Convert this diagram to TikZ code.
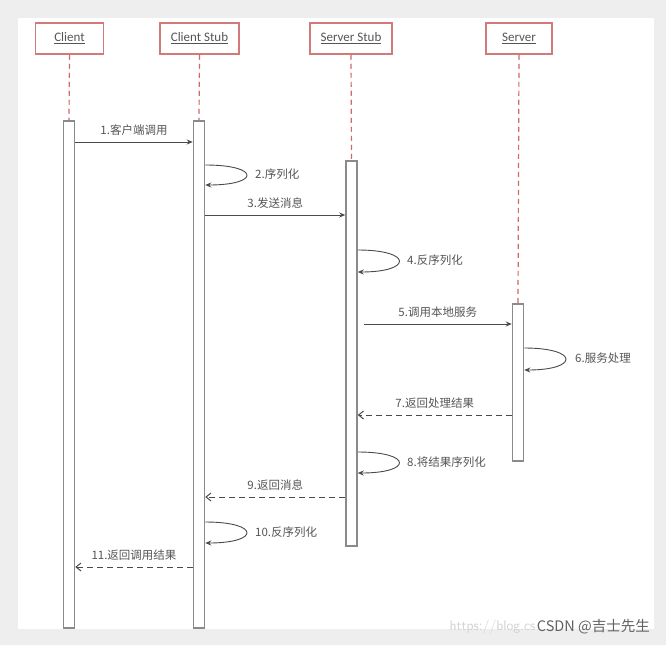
\documentclass[tikz,border=0pt]{standalone}
\usepackage{fontspec}
\setmainfont{Carlito}
\newfontfamily\cjk{Noto Sans CJK SC}
\usetikzlibrary{arrows.meta}
\definecolor{bgGrey}{HTML}{EEEEEE}
\definecolor{boxRed}{HTML}{D27A7A}
\definecolor{lifeRed}{HTML}{D06868}
\definecolor{barGrey}{HTML}{8A8A8A}
\definecolor{msgGrey}{HTML}{4A4A4A}
\definecolor{txtGrey}{HTML}{555555}
\begin{document}
\begin{tikzpicture}[x=1pt,y=-1pt,
  head/.style={draw=boxRed, line width=1.5pt, fill=white, minimum width=#1, minimum height=31pt, inner sep=0pt, font=\fontsize{13}{15}\selectfont, text=txtGrey},
  bar/.style={draw=barGrey, line width=1.5pt, fill=white, minimum width=11pt, minimum height=#1, inner sep=0pt},
  life/.style={draw=lifeRed, line width=1.2pt, dash pattern=on 5pt off 4pt},
  msg/.style={draw=msgGrey, line width=0.9pt, -{Stealth[length=6pt,width=5pt]}},
  ret/.style={draw=msgGrey, line width=1pt, dash pattern=on 6pt off 4pt, -{Straight Barb[length=5pt,width=8pt]}},
  lbl/.style={font=\cjk\fontsize{11.5}{13}\selectfont, text=txtGrey, inner sep=1pt},
]
\useasboundingbox (0,0) rectangle (666,645);
\fill[bgGrey] (0,0) rectangle (666,645);
\fill[white] (18,18) rectangle (654,629);

% headers
\node[head=68pt] (h1) at (69.5,38.5) {\underline{Client}};
\node[head=79pt] (h2) at (199.5,38.5) {\underline{Client Stub}};
\node[head=82pt] (h3) at (351,38.5) {\underline{Server Stub}};
\node[head=66pt] (h4) at (519,38.5) {\underline{Server}};

% activation bars
\node[bar=507pt, anchor=north] (b1) at (69,120) {};
\node[bar=507pt, anchor=north] (b2) at (199,120) {};
\node[bar=385pt, anchor=north] (b3) at (351.5,160) {};
\node[bar=157pt, anchor=north] (b4) at (518,303) {};

% lifelines
\draw[life] (h1.south) -- (b1.north);
\draw[life] (h2.south) -- (b2.north);
\draw[life] (h3.south) -- (b3.north);
\draw[life] (h4.south) -- (b4.north);

% message rows
\coordinate (y1) at (0,142);
\coordinate (y2a) at (0,165); \coordinate (y2b) at (0,185);
\coordinate (y3) at (0,215);
\coordinate (y4a) at (0,250); \coordinate (y4b) at (0,272);
\coordinate (y5) at (0,324);
\coordinate (y6a) at (0,348); \coordinate (y6b) at (0,370);
\coordinate (y7) at (0,415);
\coordinate (y8a) at (0,452); \coordinate (y8b) at (0,473);
\coordinate (y9) at (0,497);
\coordinate (y10a) at (0,522); \coordinate (y10b) at (0,543);
\coordinate (y11) at (0,567);

% 1
\draw[msg] (b1.east |- y1) -- (b2.west |- y1) node[lbl, midway, above=5pt] {1.客户端调用};
% 2
\draw[msg] (b2.east |- y2a) .. controls +(55,0) and +(55,0) .. (b2.east |- y2b);
\node[lbl, anchor=west] (l2) at (254,174) {2.序列化};
% 3
\draw[msg] (b2.east |- y3) -- (b3.west |- y3) node[lbl, midway, above=5pt] {3.发送消息};
% 4
\draw[msg] (b3.east |- y4a) .. controls +(55,0) and +(55,0) .. (b3.east |- y4b);
\node[lbl, anchor=west] (l4) at (406,260) {4.反序列化};
% 5
\draw[msg] ([xshift=6pt]b3.east |- y5) -- (b4.west |- y5) node[lbl, midway, above=5pt] {5.调用本地服务};
% 6
\draw[msg] (b4.east |- y6a) .. controls +(55,0) and +(55,0) .. (b4.east |- y6b);
\node[lbl, anchor=west] (l6) at (574,358) {6.服务处理};
% 7
\draw[ret] (b4.west |- y7) -- (b3.east |- y7) node[lbl, midway, above=5pt] {7.返回处理结果};
% 8
\draw[msg] (b3.east |- y8a) .. controls +(55,0) and +(55,0) .. (b3.east |- y8b);
\node[lbl, anchor=west] (l8) at (406,462) {8.将结果序列化};
% 9
\draw[ret] (b3.west |- y9) -- (b2.east |- y9) node[lbl, midway, above=5pt] {9.返回消息};
% 10
\draw[msg] (b2.east |- y10a) .. controls +(55,0) and +(55,0) .. (b2.east |- y10b);
\node[lbl, anchor=west] (l10) at (254,532) {10.反序列化};
% 11
\draw[ret] (b2.west |- y11) -- (b1.east |- y11) node[lbl, midway, above=5pt] {11.返回调用结果};

% watermark
\node[anchor=east, font=\cjk\fontsize{14.5}{16}\selectfont, text=black!62, inner sep=0pt] (wm2) at (650,627) {CSDN @吉士先生};
\node[anchor=east, font=\fontsize{14}{16}\selectfont\sffamily, text=black!18, inner sep=0pt] (wm1) at ([xshift=-1pt]wm2.west) {https://blog.cs};
\end{tikzpicture}
\end{document}
